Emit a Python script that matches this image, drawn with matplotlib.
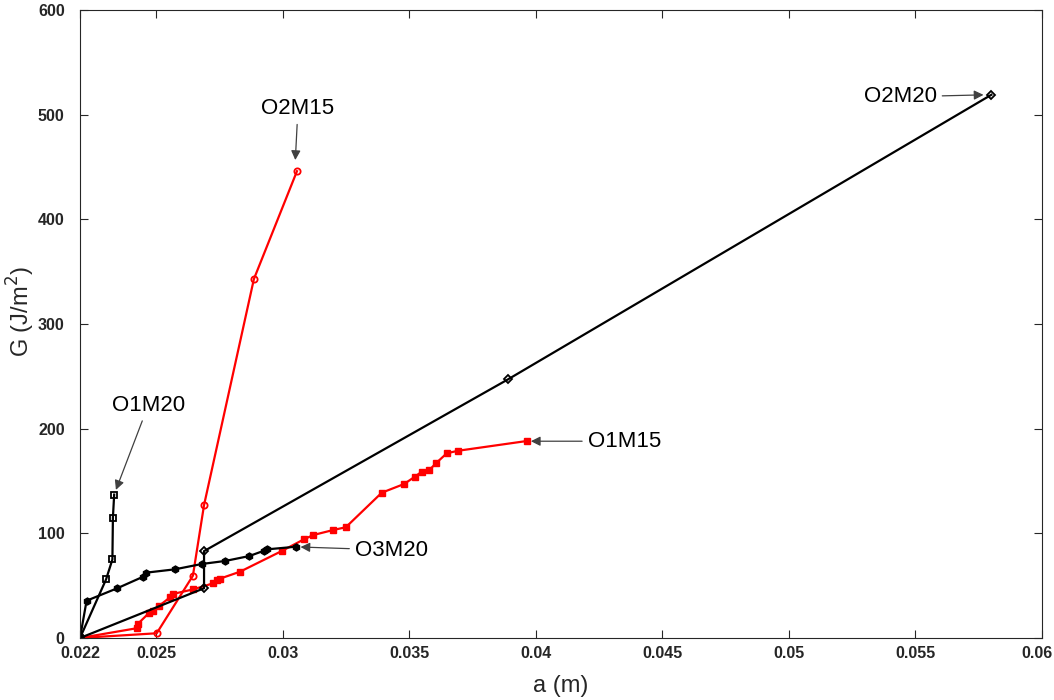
import numpy as np
import matplotlib
matplotlib.use("Agg")
import matplotlib.pyplot as plt
import matplotlib.transforms as mtransforms

plt.rcParams['font.family'] = ['Liberation Sans', 'DejaVu Sans']

# crack length a (m) and energy release rate G (J/m^2)
a_O1M15 = [0.022, 0.02424, 0.02428, 0.02474, 0.0249, 0.02512, 0.02556, 0.02566,
           0.02648, 0.02727, 0.0274, 0.02753, 0.02832, 0.02997, 0.03085, 0.03122,
           0.03201, 0.0325, 0.03392, 0.0348, 0.03523, 0.0355, 0.0358, 0.03606,
           0.03649, 0.03694, 0.03965]
G_O1M15 = [0, 9.3, 13.4, 24.2, 26.1, 30.6, 38.9, 42.0, 46.5, 52.3, 55.4, 56.7,
           63.3, 83.1, 94.3, 98.4, 103.2, 105.8, 138.8, 147.1, 154.1, 158.9,
           160.5, 166.9, 176.5, 178.9, 188.2]

a_O2M15 = [0.022, 0.02503, 0.02646, 0.0269, 0.02887, 0.03057]
G_O2M15 = [0, 4.5, 59.5, 127, 343, 446]

a_O1M20 = [0.022, 0.02303, 0.02328, 0.0233, 0.02335]
G_O1M20 = [0, 56, 75, 115, 137]

a_O2M20 = [0.022, 0.0269, 0.0269, 0.0389, 0.058]
G_O2M20 = [0, 47.5, 83, 247, 519]

a_O3M20 = [0.022, 0.02226, 0.02347, 0.0245, 0.02461, 0.02575, 0.02681, 0.02774,
           0.02869, 0.02927, 0.0294, 0.03053]
G_O3M20 = [0, 35.6, 47.5, 58.6, 62.4, 65.6, 70.7, 73.6, 78.3, 83.4, 84.7, 87.2]

xticks = [0.022, 0.025, 0.03, 0.035, 0.04, 0.045, 0.05, 0.055, 0.06]
xtick_labels = ['0.022', '0.025', '0.03', '0.035', '0.04', '0.045', '0.05', '0.055', '0.06']
yticks = [0, 100, 200, 300, 400, 500, 600]

fig = plt.figure(figsize=(10.54, 7.0), dpi=100)
ax = fig.add_axes([0.0759, 0.0886, 0.9127, 0.8971])

lw = 1.6
ax.plot(a_O1M15, G_O1M15, '-s', color='red', lw=lw, ms=4.5, mfc='red', mec='red')
ax.plot(a_O2M15, G_O2M15, '-o', color='red', lw=lw, ms=4.5, mfc='none', mec='red', mew=1.3)
ax.plot(a_O1M20, G_O1M20, '-s', color='black', lw=lw, ms=4.5, mfc='none', mec='black', mew=1.3)
ax.plot(a_O2M20, G_O2M20, '-D', color='black', lw=lw, ms=4.5, mfc='none', mec='black', mew=1.3)
ax.plot(a_O3M20, G_O3M20, '-h', color='black', lw=lw, ms=5, mfc='black', mec='black')

arrow = dict(arrowstyle='-|>', color='0.25', lw=0.9, mutation_scale=14)
fs = 16
ax.annotate('O2M15', xy=(0.0305, 454), xytext=(0.03061, 506), fontsize=fs,
            ha='center', va='center', arrowprops=arrow)
ax.annotate('O2M20', xy=(0.0578, 519), xytext=(0.0544, 517), fontsize=fs,
            ha='center', va='center', arrowprops=arrow)
ax.annotate('O1M20', xy=(0.02338, 139), xytext=(0.0247, 222.6), fontsize=fs,
            ha='center', va='center', arrowprops=arrow)
ax.annotate('O1M15', xy=(0.0397, 188), xytext=(0.0435, 188), fontsize=fs,
            ha='center', va='center', arrowprops=arrow)
ax.annotate('O3M20', xy=(0.0306, 87), xytext=(0.0343, 84), fontsize=fs,
            ha='center', va='center', arrowprops=arrow)

ax.set_xlim(0.022, 0.06)
ax.set_ylim(0, 600)
ax.set_xticks(xticks)
ax.set_xticklabels(xtick_labels)
ax.set_yticks(yticks)
ax.tick_params(direction='in', length=6, width=0.8, colors='0.15',
               top=True, right=True, labelsize=11.5)
ax.tick_params(axis='y', pad=11)
ax.tick_params(axis='x', pad=6)
for lab in ax.get_xticklabels() + ax.get_yticklabels():
    lab.set_fontweight('bold')
# keep the last x label inside the figure
last = ax.get_xticklabels()[-1]
last.set_transform(last.get_transform() +
                   mtransforms.ScaledTranslation(-5 / 100, 0, fig.dpi_scale_trans))
for sp in ax.spines.values():
    sp.set_color('0.15')
    sp.set_linewidth(0.8)

ax.set_xlabel('a (m)', fontsize=17, color='0.15', labelpad=10)
ax.set_ylabel('G (J/m$^2$)', fontsize=17, color='0.15')
ax.yaxis.set_label_coords(-0.045, 0.52)

fig.savefig('out.png', dpi=100)
